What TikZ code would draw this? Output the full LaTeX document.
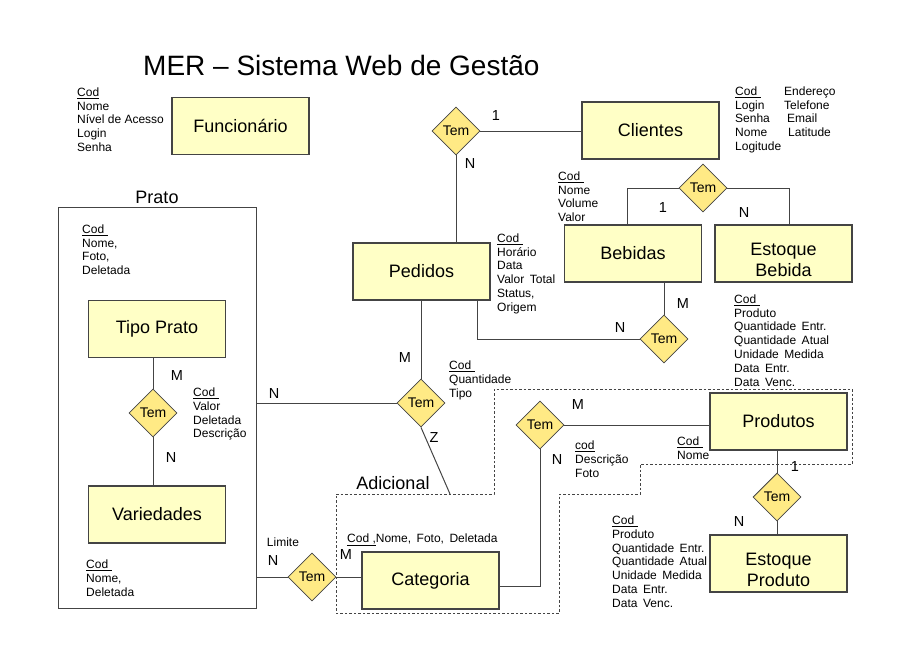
\documentclass[tikz,border=0pt]{standalone}
\usepackage{fontspec}
\setmainfont{Liberation Sans}
\usetikzlibrary{shapes.geometric}
\definecolor{boxfill}{HTML}{FFFFC6}
\definecolor{relfill}{HTML}{FFEA85}
\definecolor{linegray}{HTML}{444444}
\newcommand{\pk}[1]{\underline{#1}}
\newcommand{\wgap}{\hspace{5.5pt}}

\begin{document}
\begin{tikzpicture}[x=1pt, y=-1pt,
    entity/.style={draw=linegray, line width=1.1pt, fill=boxfill, minimum width=137pt, minimum height=57pt, inner sep=0pt, align=center, font=\fontsize{18}{21}\selectfont},
    rel/.style={diamond, aspect=1, draw=linegray, line width=0.8pt, fill=relfill, minimum width=48pt, minimum height=48pt, inner sep=0pt, font=\fontsize{14}{16}\selectfont},
    attrs/.style={anchor=north west, align=left, inner sep=0pt, font=\fontsize{12}{13.8}\selectfont},
    card/.style={inner sep=0pt, font=\fontsize{14.5}{16}\selectfont},
    heading/.style={inner sep=0pt, font=\fontsize{18}{20}\selectfont},
    link/.style={draw=linegray, line width=1pt}]
    \useasboundingbox (0,0) rectangle (904,661);

    % titulo
    \node[anchor=base west, inner sep=0pt, font=\fontsize{28}{30}\selectfont] (titulo) at (143,75) {MER -- Sistema Web de Gestão};

    % grupo prato
    \node[draw=linegray, line width=1pt, minimum width=198pt, minimum height=401pt, inner sep=0pt] (prato) at (157,407.5) {};
    \node[heading] (pratolbl) at (157,197) {Prato};

    % regiao adicional
    \draw[linegray, line width=0.8pt, dashed, dash pattern=on 2.5pt off 2pt]
        (336,494) -- (494,494) -- (494,389) -- (852,389) -- (852,464) -- (640,464)
        -- (640,494) -- (559,494) -- (559,613) -- (336,613) -- cycle;
    \node[heading] (adiclbl) at (393,483) {Adicional};
    \coordinate (adic) at (450,494);

    % entidades
    \node[entity] (funcionario) at (240.5,126) {Funcionário};
    \node[entity] (clientes) at (650.5,130.5) {Clientes};
    \node[entity] (pedidos) at (421.5,271.5) {Pedidos};
    \node[entity] (bebidas) at (633,253.5) {Bebidas};
    \node[entity] (estoquebebida) at (783.5,253.5) {\rule{0pt}{25pt}Estoque\\Bebida};
    \node[entity] (tipoprato) at (157,329) {Tipo Prato};
    \node[entity] (variedades) at (157,514.5) {Variedades};
    \node[entity] (categoria) at (430.5,580.5) {Categoria};
    \node[entity] (produtos) at (778.5,421.5) {Produtos};
    \node[entity] (estoqueproduto) at (778.5,563.5) {\rule{0pt}{25pt}Estoque\\Produto};

    % relacionamentos
    \node[rel] (tem1) at (456,131) {Tem};
    \node[rel] (tem2) at (703,188) {Tem};
    \node[rel] (tem3) at (664,339) {Tem};
    \node[rel] (tem4) at (421,403) {Tem};
    \node[rel] (tem5) at (153,413) {Tem};
    \node[rel] (tem6) at (312,577) {Tem};
    \node[rel] (tem7) at (540,425) {Tem};
    \node[rel] (tem8) at (777,497) {Tem};

    % ligacoes
    \draw[link] (tem1.east) -- (tem1.east -| clientes.west);
    \draw[link] (tem1.south) -- (tem1.south |- pedidos.north);
    \draw[link] (tem2.west) -| ([xshift=-6pt]bebidas.north);
    \draw[link] (tem2.east) -| ([xshift=5.5pt]estoquebebida.north);
    \draw[link] (tem3.north) -- (tem3.north |- bebidas.south);
    \draw[link] ([xshift=55.5pt]pedidos.south) |- (tem3.west);
    \draw[link] (tem4.north) -- (tem4.north |- pedidos.south);
    \draw[link] (tem4.west) -- (tem4.west -| prato.east);
    \draw[link] (tem4.south) -- (adic);
    \draw[link] (tem5.north) -- (tem5.north |- tipoprato.south);
    \draw[link] (tem5.south) -- (tem5.south |- variedades.north);
    \draw[link] (tem6.west) -- (tem6.west -| prato.east);
    \draw[link] (tem6.east) -- (tem6.east -| categoria.west);
    \draw[link] (tem7.east) -- (tem7.east -| produtos.west);
    \draw[link] (tem7.south) |- ([yshift=-5.5pt]categoria.east);
    \draw[link] (tem8.north) -- (tem8.north |- produtos.south);
    \draw[link] (tem8.south) -- (tem8.south |- estoqueproduto.north);

    % cardinalidades
    \node[card] (c1a) at (496,116) {1};
    \node[card] (c1b) at (470,164) {N};
    \node[card] (c2a) at (663,208) {1};
    \node[card] (c2b) at (744,213) {N};
    \node[card] (c3a) at (683,304) {M};
    \node[card] (c3b) at (620,328) {N};
    \node[card] (c4a) at (405,358) {M};
    \node[card] (c4b) at (274,394) {N};
    \node[card] (c4c) at (434,438) {Z};
    \node[card] (c5a) at (177,376) {M};
    \node[card] (c5b) at (171,458) {N};
    \node[card] (c6a) at (273,561) {N};
    \node[card] (c6b) at (346,555) {M};
    \node[card] (c7a) at (578,405) {M};
    \node[card] (c7b) at (557,460) {N};
    \node[card] (c8a) at (795,467) {1};
    \node[card] (c8b) at (739,522) {N};
    \node[inner sep=0pt, font=\fontsize{12}{13.8}\selectfont] (limite) at (283,542) {Limite};

    % atributos
    \node[attrs] (afuncionario) at (77,87.5) {\pk{Cod}\\Nome\\Nível de Acesso\\Login\\Senha};
    \node[attrs] (aclientes) at (735,86.5) {\pk{Cod\ }\\Login\\Senha\\Nome\\Logitude};
    \node[attrs] (aclientes2) at (784,86.5) {Endereço\\Telefone\\\hspace{3pt}Email\\\hspace{4pt}Latitude};
    \node[attrs] (abebidas) at (558,171.5) {\pk{Cod\ }\\Nome\\Volume\\Valor};
    \node[attrs] (apedidos) at (497,233.5) {\pk{Cod\ }\\Horário\\Data\\Valor\wgap Total\\Status,\\Origem};
    \node[attrs] (aprato) at (82,224.5) {\pk{Cod\ }\\Nome,\\Foto,\\Deletada};
    \node[attrs] (atem5) at (193,387.5) {\pk{Cod\ }\\Valor\\Deletada\\Descrição};
    \node[attrs] (avariedades) at (86,559.5) {\pk{Cod\ }\\Nome,\\Deletada};
    \node[attrs] (atem4) at (449,360.5) {\pk{Cod\ }\\Quantidade\\Tipo};
    \node[attrs] (aestoquebebida) at (734,294.5) {\pk{Cod\ }\\Produto\\Quantidade\wgap Entr.\\Quantidade\wgap Atual\\Unidade\wgap Medida\\Data\wgap Entr.\\Data\wgap Venc.};
    \node[attrs] (atem7) at (575,440.5) {\pk{cod}\\Descrição\\Foto};
    \node[attrs] (aprodutos) at (677,436.5) {\pk{Cod\ }\\Nome};
    \node[attrs] (aestoqueproduto) at (612,515.5) {\pk{Cod\ }\\Produto\\Quantidade\wgap Entr.\\Quantidade\wgap Atual\\Unidade\wgap Medida\\Data\wgap Entr.\\Data\wgap Venc.};
    \node[attrs] (acategoria) at (347,533.5) {\pk{Cod\ ,}Nome,\wgap Foto,\wgap Deletada};
\end{tikzpicture}
\end{document}
